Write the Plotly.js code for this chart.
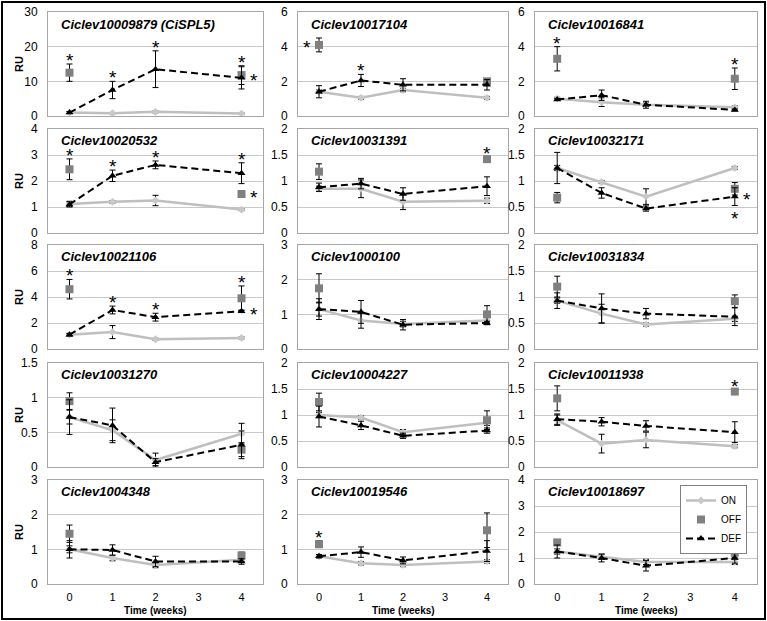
<!DOCTYPE html>
<html>
<head>
<meta charset="utf-8">
<script src="https://cdn.plot.ly/plotly-3.0.1.min.js"></script>
<style>html,body{margin:0;padding:0;background:#fff;}#chart{width:767px;height:621px;}</style>
</head>
<body>
<div id="chart"></div>
<script>
// ---------------- DATA ----------------
const timeWeeks = [0, 1, 2, 4];
const offTimes = [0, 4];
const xTickValues = [0, 1, 2, 3, 4];
const xTickLabels = ['0', '1', '2', '3', '4'];
const seriesNames = ['ON', 'OFF', 'DEF'];
const geneNames = [
  'Ciclev10009879 (CiSPL5)', 'Ciclev10017104', 'Ciclev10016841',
  'Ciclev10020532', 'Ciclev10031391', 'Ciclev10032171',
  'Ciclev10021106', 'Ciclev1000100', 'Ciclev10031834',
  'Ciclev10031270', 'Ciclev10004227', 'Ciclev10011938',
  'Ciclev1004348', 'Ciclev10019546', 'Ciclev10018697'
];
const yAxisMax = [30, 6, 6, 4, 2, 2, 8, 3, 2, 1.5, 2, 2, 3, 3, 4];
const yAxisStep = [10, 2, 2, 1, 0.5, 0.5, 2, 1, 0.5, 0.5, 0.5, 0.5, 1, 1, 1];

const onValues = [
  [1.0, 0.8, 1.2, 0.7], [1.4, 1.05, 1.5, 1.05], [1.0, 0.8, 0.65, 0.5],
  [1.12, 1.2, 1.25, 0.9], [0.85, 0.85, 0.6, 0.62], [1.25, 0.98, 0.7, 1.25],
  [1.1, 1.3, 0.75, 0.85], [1.15, 0.82, 0.72, 0.82], [0.93, 0.68, 0.47, 0.58],
  [0.72, 0.53, 0.1, 0.48], [1.0, 0.95, 0.67, 0.85], [0.9, 0.45, 0.52, 0.4],
  [1.0, 0.75, 0.55, 0.7], [0.8, 0.6, 0.55, 0.65], [1.25, 1.05, 0.85, 0.85]
];
const onErrors = [
  [0.2, 0.2, 0.3, 0.2], [0.1, 0.08, 0.1, 0.08], [0.08, 0.25, 0.1, 0.08],
  [0.1, 0.05, 0.2, 0.04], [0.05, 0.17, 0.15, 0.05], [0.05, 0.03, 0.15, 0.03],
  [0.1, 0.5, 0.08, 0.08], [0.3, 0.22, 0.08, 0.1], [0.05, 0.18, 0.03, 0.05],
  [0.1, 0.15, 0.1, 0.15], [0.05, 0.03, 0.05, 0.05], [0.1, 0.18, 0.15, 0.03],
  [0.1, 0.08, 0.08, 0.05], [0.03, 0.05, 0.05, 0.05], [0.1, 0.1, 0.1, 0.1]
];
const offValues = [
  [12.5, 11.8], [4.1, 2.0], [3.3, 2.15],
  [2.45, 1.5], [1.18, 1.42], [0.68, 0.85],
  [4.6, 3.9], [1.75, 1.0], [1.2, 0.92],
  [0.95, 0.25], [1.25, 0.9], [1.32, 1.45],
  [1.45, 0.82], [1.15, 1.55], [1.6, 1.2]
];
const offErrors = [
  [2.5, 2.7], [0.4, 0.15], [0.7, 0.62],
  [0.4, 0.05], [0.15, 0.04], [0.1, 0.12],
  [0.75, 0.95], [0.42, 0.25], [0.2, 0.12],
  [0.12, 0.1], [0.17, 0.18], [0.24, 0.04],
  [0.25, 0.1], [0.1, 0.5], [0.08, 0.2]
];
const defValues = [
  [1.0, 7.5, 13.5, 11.0], [1.4, 2.05, 1.8, 1.8], [0.95, 1.2, 0.65, 0.35],
  [1.1, 2.2, 2.62, 2.3], [0.88, 0.95, 0.75, 0.9], [1.25, 0.77, 0.47, 0.7],
  [1.1, 3.0, 2.45, 2.9], [1.15, 1.07, 0.7, 0.75], [0.93, 0.78, 0.68, 0.62],
  [0.72, 0.6, 0.07, 0.32], [0.97, 0.8, 0.6, 0.7], [0.92, 0.87, 0.79, 0.67],
  [1.0, 0.98, 0.65, 0.65], [0.8, 0.92, 0.68, 0.95], [1.25, 1.0, 0.7, 1.0]
];
const defErrors = [
  [0.3, 2.5, 5.3, 3.2], [0.35, 0.35, 0.35, 0.3], [0.05, 0.3, 0.2, 0.05],
  [0.1, 0.22, 0.15, 0.4], [0.08, 0.1, 0.12, 0.18], [0.3, 0.1, 0.05, 0.17],
  [0.1, 0.3, 0.3, 0.1], [0.2, 0.33, 0.15, 0.05], [0.15, 0.28, 0.1, 0.17],
  [0.25, 0.25, 0.05, 0.2], [0.2, 0.08, 0.05, 0.05], [0.1, 0.08, 0.1, 0.2],
  [0.25, 0.15, 0.15, 0.08], [0.05, 0.15, 0.1, 0.3], [0.25, 0.15, 0.2, 0.2]
];
// significance marks: [panel index (0-based), time, series, placement]
const significance = [
  [0, 0, 'OFF', 'above'], [0, 1, 'DEF', 'above'], [0, 2, 'DEF', 'above'], [0, 4, 'OFF', 'above'], [0, 4, 'DEF', 'right'],
  [1, 0, 'OFF', 'left'], [1, 1, 'DEF', 'above'],
  [2, 0, 'OFF', 'above'], [2, 4, 'OFF', 'above'],
  [3, 0, 'OFF', 'above'], [3, 1, 'DEF', 'above'], [3, 2, 'DEF', 'above'], [3, 4, 'DEF', 'above'], [3, 4, 'OFF', 'right'],
  [4, 4, 'OFF', 'above'],
  [5, 4, 'DEF', 'right'], [5, 4, 'DEF', 'below'],
  [6, 0, 'OFF', 'above'], [6, 1, 'DEF', 'above'], [6, 2, 'DEF', 'above'], [6, 4, 'OFF', 'above'], [6, 4, 'DEF', 'right'],
  [11, 4, 'OFF', 'above'],
  [13, 0, 'OFF', 'above']
];

// ---------------- LAYOUT ----------------
const W = 767, H = 621;
const FONT = 'Liberation Sans, Arial, sans-serif';
const colPx = [[48, 263], [298, 508], [535, 757]];
const rowTopPx = [12, 129, 245, 363, 480];
const titleOffsetPx = [13, 11, 11, 11, 11];
const rowH = 104;

const traces = [];
const layout = {
  width: W, height: H,
  margin: {l: 0, r: 0, t: 0, b: 0},
  paper_bgcolor: '#ffffff', plot_bgcolor: '#ffffff',
  font: {family: FONT, color: '#000'},
  showlegend: true,
  legend: {
    x: 680 / W, y: 1 - 485 / H, xanchor: 'left', yanchor: 'top',
    bgcolor: '#ffffff', bordercolor: '#808080', borderwidth: 1,
    font: {size: 10, family: FONT, color: '#000'},
    tracegroupgap: 0, itemwidth: 30
  },
  annotations: [], shapes: []
};

function lookup(p, t, s) {
  if (s === 'OFF') { const k = offTimes.indexOf(t); return [offValues[p][k], offErrors[p][k]]; }
  const k = timeWeeks.indexOf(t);
  if (s === 'ON') return [onValues[p][k], onErrors[p][k]];
  return [defValues[p][k], defErrors[p][k]];
}

for (let i = 0; i < geneNames.length; i++) {
  const row = Math.floor(i / 3), col = i % 3, n = i + 1;
  const xs = n === 1 ? '' : String(n);
  const [l, r] = colPx[col];
  const top = rowTopPx[row], bot = top + rowH;
  layout['xaxis' + xs] = {
    domain: [l / W, r / W], range: [-0.5, 4.5], anchor: 'y' + xs,
    tickvals: xTickValues, ticktext: xTickLabels, showticklabels: row === 4,
    tickfont: {size: 11, family: FONT, color: '#000'},
    ticks: '', ticklabelstandoff: 3,
    showgrid: false, zeroline: false, showline: true, mirror: true,
    linecolor: '#a6a6a6', linewidth: 1, fixedrange: true
  };
  layout['yaxis' + xs] = {
    domain: [1 - bot / H, 1 - top / H], range: [0, yAxisMax[i]], anchor: 'x' + xs,
    tick0: 0, dtick: yAxisStep[i],
    tickfont: {size: 12, family: FONT, color: '#000'},
    ticks: '', ticklabelstandoff: 7,
    showgrid: true, gridcolor: '#c8c8c8', gridwidth: 1,
    zeroline: false, showline: true, mirror: true,
    linecolor: '#a6a6a6', linewidth: 1, fixedrange: true
  };
  const errStyle = {type: 'data', visible: true, color: '#000', thickness: 1, width: 3};
  traces.push({
    type: 'scatter', mode: 'lines+markers', name: seriesNames[0],
    x: timeWeeks, y: onValues[i], xaxis: 'x' + xs, yaxis: 'y' + xs,
    line: {color: '#bfbfbf', width: 2.5},
    marker: {symbol: 'diamond', size: 6, color: '#c8c8c8'},
    error_y: Object.assign({array: onErrors[i]}, errStyle),
    showlegend: i === 0, legendgroup: 'on'
  });
  traces.push({
    type: 'scatter', mode: 'markers', name: seriesNames[1],
    x: offTimes, y: offValues[i], xaxis: 'x' + xs, yaxis: 'y' + xs,
    marker: {symbol: 'square', size: 8, color: '#808080'},
    error_y: Object.assign({array: offErrors[i]}, errStyle),
    showlegend: i === 0, legendgroup: 'off'
  });
  traces.push({
    type: 'scatter', mode: 'lines+markers', name: seriesNames[2],
    x: timeWeeks, y: defValues[i], xaxis: 'x' + xs, yaxis: 'y' + xs,
    line: {color: '#000', width: 2, dash: '7px,4px'},
    marker: {symbol: 'triangle-up', size: 7, color: '#000'},
    error_y: Object.assign({array: defErrors[i]}, errStyle),
    showlegend: i === 0, legendgroup: 'def'
  });
  // panel title
  layout.annotations.push({
    xref: 'paper', yref: 'paper', x: (l + 11) / W, y: 1 - (top + titleOffsetPx[row]) / H,
    xanchor: 'left', yanchor: 'middle', showarrow: false,
    text: '<b><i>' + geneNames[i] + '</i></b>',
    font: {size: 13, family: FONT, color: '#000'}
  });
  if (col === 0) {
    layout.annotations.push({
      xref: 'paper', yref: 'paper', x: 19 / W, y: 1 - (top + rowH / 2) / H,
      xanchor: 'center', yanchor: 'middle', showarrow: false, textangle: -90,
      text: '<b>RU</b>', font: {size: 11, family: FONT, color: '#000'}
    });
  }
  if (row === 4) {
    layout.annotations.push({
      xref: 'paper', yref: 'paper', x: (l + r) / 2 / W, y: 1 - 610 / H,
      xanchor: 'center', yanchor: 'middle', showarrow: false,
      text: '<b>Time (weeks)</b>', font: {size: 10, family: FONT, color: '#000'}
    });
  }
}

significance.forEach(function (s) {
  const p = s[0], t = s[1], ser = s[2], place = s[3];
  const xs = p === 0 ? '' : String(p + 1);
  const ve = lookup(p, t, ser);
  const a = {xref: 'x' + xs, yref: 'y' + xs, x: t, showarrow: false, text: '*',
    font: {size: 19, family: FONT, color: '#000'}};
  if (place === 'above') { a.y = ve[0] + ve[1]; a.yanchor = 'bottom'; a.yshift = -9; }
  else if (place === 'below') { a.y = ve[0] - ve[1]; a.yanchor = 'top'; a.yshift = -1; }
  else if (place === 'right') { a.y = ve[0]; a.yanchor = 'middle'; a.xanchor = 'center'; a.xshift = 12; a.yshift = -3; }
  else { a.y = ve[0]; a.yanchor = 'middle'; a.xanchor = 'center'; a.xshift = -12; a.yshift = -3; }
  layout.annotations.push(a);
});

layout.shapes.push({
  type: 'rect', xref: 'paper', yref: 'paper',
  x0: 2 / W, x1: 765 / W, y0: 1 - 619 / H, y1: 1 - 2 / H,
  line: {color: '#000', width: 2}, fillcolor: 'rgba(0,0,0,0)'
});

Plotly.newPlot('chart', traces, layout, {displayModeBar: false, staticPlot: true});
</script>
</body>
</html>
